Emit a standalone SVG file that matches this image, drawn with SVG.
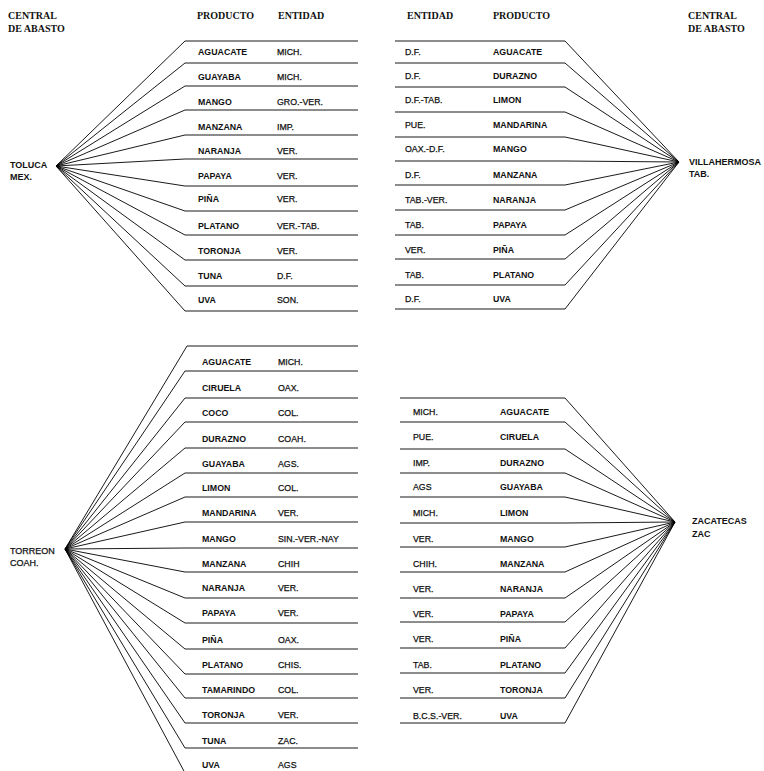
<svg xmlns="http://www.w3.org/2000/svg" width="764" height="771" viewBox="0 0 764 771">
<style>
.h{font-family:"Liberation Serif","Times New Roman",serif;font-weight:bold;font-size:10px;fill:#111}
.p{font-family:"Liberation Sans",Arial,sans-serif;font-weight:bold;font-size:8.8px;fill:#111}
.e{font-family:"Liberation Sans",Arial,sans-serif;font-size:8.8px;fill:#111;stroke:#111;stroke-width:0.25}
.hub{font-family:"Liberation Sans",Arial,sans-serif;font-weight:bold;font-size:9px;fill:#111}
.hubr{font-family:"Liberation Sans",Arial,sans-serif;font-size:9px;fill:#111;stroke:#111;stroke-width:0.25}
.ln{stroke:#1a1a1a;stroke-width:1.2;fill:none}
.dg{stroke:#000;stroke-width:0.9;fill:none}
</style>
<rect width="764" height="771" fill="#fff"/>
<g id="headers">
<text class="h" x="8" y="19">CENTRAL</text>
<text class="h" x="8" y="32">DE ABASTO</text>
<text class="h" x="197" y="19">PRODUCTO</text>
<text class="h" x="278" y="19">ENTIDAD</text>
<text class="h" x="407" y="19">ENTIDAD</text>
<text class="h" x="493" y="19">PRODUCTO</text>
<text class="h" x="688" y="19">CENTRAL</text>
<text class="h" x="688" y="32">DE ABASTO</text>
</g>
<g id="hub-toluca">
<text class="hub" x="10" y="168">TOLUCA</text>
<text class="hub" x="10" y="180">MEX.</text>
</g>
<g id="hub-villahermosa">
<text class="hub" x="689" y="165">VILLAHERMOSA</text>
<text class="hub" x="689" y="177">TAB.</text>
</g>
<g id="hub-torreon">
<text class="hubr" x="10" y="554">TORREON</text>
<text class="hubr" x="10" y="566">COAH.</text>
</g>
<g id="hub-zacatecas">
<text class="hub" x="692" y="524">ZACATECAS</text>
<text class="hub" x="692" y="537">ZAC</text>
</g>
<g id="table-toluca">
<text class="p" x="198" y="55">AGUACATE</text><text class="e" x="277" y="55">MICH.</text>
<text class="p" x="198" y="80">GUAYABA</text><text class="e" x="277" y="80">MICH.</text>
<text class="p" x="198" y="105">MANGO</text><text class="e" x="277" y="105">GRO.-VER.</text>
<text class="p" x="198" y="130">MANZANA</text><text class="e" x="277" y="130">IMP.</text>
<text class="p" x="198" y="154">NARANJA</text><text class="e" x="277" y="154">VER.</text>
<text class="p" x="198" y="179">PAPAYA</text><text class="e" x="277" y="179">VER.</text>
<text class="p" x="198" y="202">PIÑA</text><text class="e" x="277" y="202">VER.</text>
<text class="p" x="198" y="229">PLATANO</text><text class="e" x="277" y="229">VER.-TAB.</text>
<text class="p" x="198" y="254">TORONJA</text><text class="e" x="277" y="254">VER.</text>
<text class="p" x="198" y="279">TUNA</text><text class="e" x="277" y="279">D.F.</text>
<text class="p" x="198" y="303">UVA</text><text class="e" x="277" y="303">SON.</text>
</g>
<g id="table-villahermosa">
<text class="e" x="405" y="55">D.F.</text><text class="p" x="493" y="55">AGUACATE</text>
<text class="e" x="405" y="79">D.F.</text><text class="p" x="493" y="79">DURAZNO</text>
<text class="e" x="405" y="103">D.F.-TAB.</text><text class="p" x="493" y="103">LIMON</text>
<text class="e" x="405" y="128">PUE.</text><text class="p" x="493" y="128">MANDARINA</text>
<text class="e" x="405" y="152">OAX.-D.F.</text><text class="p" x="493" y="152">MANGO</text>
<text class="e" x="405" y="178">D.F.</text><text class="p" x="493" y="178">MANZANA</text>
<text class="e" x="405" y="203">TAB.-VER.</text><text class="p" x="493" y="203">NARANJA</text>
<text class="e" x="405" y="228">TAB.</text><text class="p" x="493" y="228">PAPAYA</text>
<text class="e" x="405" y="253">VER.</text><text class="p" x="493" y="253">PIÑA</text>
<text class="e" x="405" y="278">TAB.</text><text class="p" x="493" y="278">PLATANO</text>
<text class="e" x="405" y="302">D.F.</text><text class="p" x="493" y="302">UVA</text>
</g>
<g id="table-torreon">
<text class="p" x="202" y="365">AGUACATE</text><text class="e" x="278" y="365">MICH.</text>
<text class="p" x="202" y="391">CIRUELA</text><text class="e" x="278" y="391">OAX.</text>
<text class="p" x="202" y="416">COCO</text><text class="e" x="278" y="416">COL.</text>
<text class="p" x="202" y="442">DURAZNO</text><text class="e" x="278" y="442">COAH.</text>
<text class="p" x="202" y="467">GUAYABA</text><text class="e" x="278" y="467">AGS.</text>
<text class="p" x="202" y="491">LIMON</text><text class="e" x="278" y="491">COL.</text>
<text class="p" x="202" y="516">MANDARINA</text><text class="e" x="278" y="516">VER.</text>
<text class="p" x="202" y="542">MANGO</text><text class="e" x="278" y="542">SIN.-VER.-NAY</text>
<text class="p" x="202" y="567">MANZANA</text><text class="e" x="278" y="567">CHIH</text>
<text class="p" x="202" y="591">NARANJA</text><text class="e" x="278" y="591">VER.</text>
<text class="p" x="202" y="616">PAPAYA</text><text class="e" x="278" y="616">VER.</text>
<text class="p" x="202" y="643">PIÑA</text><text class="e" x="278" y="643">OAX.</text>
<text class="p" x="202" y="668">PLATANO</text><text class="e" x="278" y="668">CHIS.</text>
<text class="p" x="202" y="693">TAMARINDO</text><text class="e" x="278" y="693">COL.</text>
<text class="p" x="202" y="718">TORONJA</text><text class="e" x="278" y="718">VER.</text>
<text class="p" x="202" y="744">TUNA</text><text class="e" x="278" y="744">ZAC.</text>
<text class="p" x="202" y="768">UVA</text><text class="e" x="278" y="768">AGS</text>
</g>
<g id="table-zacatecas">
<text class="e" x="413" y="415">MICH.</text><text class="p" x="500" y="415">AGUACATE</text>
<text class="e" x="413" y="440">PUE.</text><text class="p" x="500" y="440">CIRUELA</text>
<text class="e" x="413" y="466">IMP.</text><text class="p" x="500" y="466">DURAZNO</text>
<text class="e" x="413" y="490">AGS</text><text class="p" x="500" y="490">GUAYABA</text>
<text class="e" x="413" y="516">MICH.</text><text class="p" x="500" y="516">LIMON</text>
<text class="e" x="413" y="542">VER.</text><text class="p" x="500" y="542">MANGO</text>
<text class="e" x="413" y="567">CHIH.</text><text class="p" x="500" y="567">MANZANA</text>
<text class="e" x="413" y="592">VER.</text><text class="p" x="500" y="592">NARANJA</text>
<text class="e" x="413" y="617">VER.</text><text class="p" x="500" y="617">PAPAYA</text>
<text class="e" x="413" y="642">VER.</text><text class="p" x="500" y="642">PIÑA</text>
<text class="e" x="413" y="668">TAB.</text><text class="p" x="500" y="668">PLATANO</text>
<text class="e" x="413" y="693">VER.</text><text class="p" x="500" y="693">TORONJA</text>
<text class="e" x="413" y="719">B.C.S.-VER.</text><text class="p" x="500" y="719">UVA</text>
</g>
<g id="connectors">
<g id="rules-toluca" class="ln">
<path d="M185 41H358M185 63H358M185 86H358M185 110H358M185 135H358M185 159H358M185 186H358M185 211H358M185 235H358M185 260H358M185 286H358M185 311H358"/>
</g>
<g id="rays-toluca" class="dg">
<path d="M56 166L185 41M56 166L185 63M56 166L185 86M56 166L185 110M56 166L185 135M56 166L185 159M56 166L185 186M56 166L185 211M56 166L185 235M56 166L185 260M56 166L185 286M56 166L185 311"/>
</g>
<g id="rules-villahermosa" class="ln">
<path d="M395 41H565M395 63H565M395 87H565M395 112H565M395 137H565M395 161H565M395 185H565M395 210H565M395 235H565M395 259H565M395 285H565M395 309H565"/>
</g>
<g id="rays-villahermosa" class="dg">
<path d="M679 162L565 41M679 162L565 63M679 162L565 87M679 162L565 112M679 162L565 137M679 162L565 161M679 162L565 185M679 162L565 210M679 162L565 235M679 162L565 259M679 162L565 285M679 162L565 309"/>
</g>
<g id="rules-torreon" class="ln">
<path d="M187 346H358M185 371H358M185 398H358M185 422H358M185 448H358M185 473H358M185 497H358M185 522H358M185 548H358M185 572H358M185 598H358M185 623H358M185 649H358M185 674H358M185 698H358M185 723H358M185 748H358M185 773H358"/>
</g>
<g id="rays-torreon" class="dg">
<path d="M65 549L187 346M65 549L185 371M65 549L185 398M65 549L185 422M65 549L185 448M65 549L185 473M65 549L185 497M65 549L185 522M65 549L185 548M65 549L185 572M65 549L185 598M65 549L185 623M65 549L185 649M65 549L185 674M65 549L185 698M65 549L185 723M65 549L185 748M65 549L185 773"/>
</g>
<g id="rules-zacatecas" class="ln">
<path d="M400 398H565M400 422H565M400 449H565M400 473H565M400 497H565M400 523H565M400 547H565M400 572H565M400 598H565M400 622H565M400 648H565M400 673H565M400 698H565M400 723H565"/>
</g>
<g id="rays-zacatecas" class="dg">
<path d="M675 522L565 398M675 522L565 422M675 522L565 449M675 522L565 473M675 522L565 497M675 522L565 523M675 522L565 547M675 522L565 572M675 522L565 598M675 522L565 622M675 522L565 648M675 522L565 673M675 522L565 698M675 522L565 723"/>
</g>
</g>
</svg>
